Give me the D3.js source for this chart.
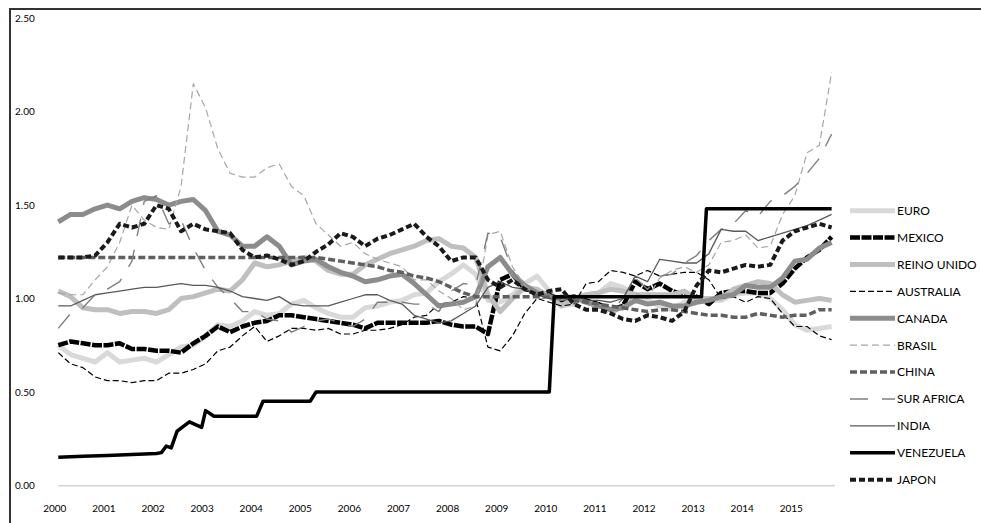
<!DOCTYPE html>
<html>
<head>
<meta charset="utf-8">
<script src="https://cdn.jsdelivr.net/npm/d3@7"></script>
<style>
  html, body { margin: 0; padding: 0; background: #fff; }
  svg { display: block; font-family: Lato, "Open Sans", sans-serif; }
</style>
</head>
<body>
<svg id="chart" width="981" height="523"></svg>
<script>
// ---------------- DATA ----------------
const years = [2000, 2001, 2002, 2003, 2004, 2005, 2006, 2007, 2008, 2009, 2010, 2011, 2012, 2013, 2014, 2015];
const yTicks = [0, 0.5, 1, 1.5, 2, 2.5];
// quarterly observation dates (Q1 2000 ... Q4 2015)
const quarters = d3.range(64).map(i => 2000 + i / 4);

const euro = [
  0.75, 0.70, 0.68, 0.66,  0.71, 0.66, 0.67, 0.68,  0.66, 0.70, 0.74, 0.75,  0.80, 0.86, 0.85, 0.88,
  0.93, 0.91, 0.92, 0.97,  0.99, 0.95, 0.92, 0.90,  0.90, 0.95, 0.96, 0.98,  0.99, 1.02, 1.03, 1.09,
  1.13, 1.18, 1.13, 0.99,  0.98, 1.02, 1.08, 1.12,  1.04, 0.96, 0.97, 1.02,  1.03, 1.08, 1.06, 1.02,
  0.99, 0.96, 0.94, 0.98,  0.99, 0.99, 0.99, 1.02,  1.03, 1.03, 1.00, 0.94,  0.86, 0.83, 0.84, 0.85];
const mexico = [
  0.75, 0.77, 0.76, 0.75,  0.75, 0.76, 0.73, 0.73,  0.72, 0.72, 0.71, 0.76,  0.80, 0.85, 0.82, 0.85,
  0.87, 0.88, 0.91, 0.91,  0.90, 0.89, 0.88, 0.87,  0.86, 0.84, 0.87, 0.87,  0.87, 0.87, 0.87, 0.88,
  0.86, 0.85, 0.85, 0.81,  1.10, 1.13, 1.05, 1.04,  1.02, 0.99, 1.01, 0.99,  0.97, 0.94, 0.96, 1.09,
  1.05, 1.08, 1.04, 1.02,  1.01, 0.97, 1.03, 1.04,  1.04, 1.03, 1.03, 1.08,  1.16, 1.22, 1.26, 1.33];
const reinoUnido = [
  1.04, 1.01, 0.95, 0.94,  0.94, 0.92, 0.93, 0.93,  0.92, 0.94, 1.00, 1.01,  1.03, 1.05, 1.04, 1.10,
  1.19, 1.17, 1.18, 1.20,  1.22, 1.20, 1.15, 1.13,  1.13, 1.18, 1.21, 1.24,  1.26, 1.28, 1.31, 1.32,
  1.28, 1.27, 1.22, 1.02,  0.93, 1.00, 1.06, 1.05,  1.01, 0.96, 1.00, 1.02,  1.03, 1.05, 1.04, 1.02,
  1.02, 1.02, 1.02, 1.04,  1.00, 1.00, 1.00, 1.05,  1.07, 1.09, 1.08, 1.02,  0.98, 0.99, 1.00, 0.99];
const australia = [
  0.71, 0.65, 0.63, 0.58,  0.56, 0.56, 0.55, 0.56,  0.56, 0.60, 0.60, 0.62,  0.65, 0.72, 0.74, 0.80,
  0.85, 0.77, 0.80, 0.84,  0.84, 0.83, 0.84, 0.81,  0.81, 0.83, 0.83, 0.84,  0.86, 0.90, 0.91, 0.97,
  0.98, 1.01, 1.00, 0.74,  0.72, 0.80, 0.92, 1.00,  0.98, 0.96, 0.97, 1.08,  1.09, 1.15, 1.14, 1.12,
  1.15, 1.12, 1.13, 1.14,  1.14, 1.10, 1.00, 1.01,  0.98, 1.01, 1.00, 0.92,  0.85, 0.85, 0.80, 0.78];
const canada = [
  1.41, 1.45, 1.45, 1.48,  1.50, 1.48, 1.52, 1.54,  1.53, 1.50, 1.52, 1.53,  1.47, 1.36, 1.34, 1.28,
  1.28, 1.33, 1.28, 1.18,  1.20, 1.21, 1.17, 1.14,  1.12, 1.09, 1.10, 1.12,  1.13, 1.08, 1.02, 0.96,
  0.97, 0.98, 1.01, 1.17,  1.22, 1.13, 1.07, 1.03,  1.01, 1.00, 1.01, 0.98,  0.96, 0.94, 0.95, 0.99,
  0.97, 0.98, 0.96, 0.96,  0.98, 0.99, 1.01, 1.02,  1.07, 1.06, 1.06, 1.11,  1.20, 1.21, 1.27, 1.30];
const brasil = [
  1.03, 1.02, 1.02, 1.10,  1.17, 1.30, 1.50, 1.42,  1.38, 1.37, 1.60, 2.15,  2.02, 1.80, 1.67, 1.65,
  1.65, 1.70, 1.72, 1.60,  1.55, 1.40, 1.34, 1.28,  1.30, 1.24, 1.21, 1.19,  1.17, 1.10, 1.10, 1.04,
  1.00, 0.94, 0.96, 1.34,  1.36, 1.17, 1.07, 1.00,  1.00, 1.02, 0.99, 0.97,  0.95, 0.92, 0.94, 1.03,
  1.00, 1.11, 1.15, 1.17,  1.14, 1.18, 1.30, 1.31,  1.34, 1.27, 1.28, 1.45,  1.55, 1.78, 1.82, 2.21];
const china = [
  1.22, 1.22, 1.22, 1.22,  1.22, 1.22, 1.22, 1.22,  1.22, 1.22, 1.22, 1.22,  1.22, 1.22, 1.22, 1.22,
  1.22, 1.22, 1.22, 1.22,  1.22, 1.22, 1.21, 1.20,  1.19, 1.18, 1.17, 1.15,  1.14, 1.12, 1.11, 1.09,
  1.06, 1.03, 1.01, 1.01,  1.01, 1.01, 1.01, 1.01,  1.01, 1.01, 0.99, 0.98,  0.97, 0.96, 0.95, 0.94,
  0.93, 0.94, 0.94, 0.93,  0.92, 0.91, 0.91, 0.90,  0.90, 0.92, 0.91, 0.90,  0.91, 0.91, 0.94, 0.94];
const surAfrica = [
  0.84, 0.92, 0.95, 1.02,  1.05, 1.09, 1.20, 1.52,  1.55, 1.40, 1.42, 1.27,  1.15, 1.06, 1.00, 0.93,
  0.93, 0.89, 0.88, 0.82,  0.85, 0.88, 0.89, 0.87,  0.85, 0.89, 0.98, 0.98,  0.98, 0.97, 0.97, 0.93,
  1.04, 1.08, 1.07, 1.35,  1.33, 1.15, 1.05, 1.02,  1.02, 1.02, 0.98, 0.94,  0.96, 0.93, 1.00, 1.11,
  1.05, 1.12, 1.13, 1.19,  1.23, 1.31, 1.37, 1.40,  1.47, 1.44, 1.52, 1.55,  1.60, 1.67, 1.75, 1.88];
const india = [
  0.96, 0.96, 0.99, 1.02,  1.03, 1.04, 1.05, 1.06,  1.06, 1.07, 1.08, 1.07,  1.07, 1.06, 1.04, 1.01,
  1.00, 0.99, 1.01, 0.97,  0.96, 0.96, 0.96, 0.98,  1.00, 1.02, 1.02, 0.99,  0.97, 0.91, 0.89, 0.87,
  0.88, 0.92, 0.96, 1.06,  1.09, 1.06, 1.05, 1.02,  1.00, 1.00, 1.02, 0.99,  0.99, 0.98, 1.00, 1.12,
  1.09, 1.21, 1.20, 1.19,  1.19, 1.24, 1.37, 1.36,  1.36, 1.31, 1.33, 1.35,  1.37, 1.39, 1.42, 1.45];
const japon = [
  1.22, 1.22, 1.22, 1.23,  1.30, 1.40, 1.38, 1.40,  1.50, 1.48, 1.36, 1.40,  1.37, 1.36, 1.35, 1.26,
  1.22, 1.23, 1.21, 1.18,  1.20, 1.25, 1.29, 1.35,  1.33, 1.28, 1.32, 1.34,  1.37, 1.40, 1.33, 1.28,
  1.20, 1.22, 1.22, 1.10,  1.06, 1.10, 1.05, 1.02,  1.04, 1.05, 0.97, 0.94,  0.94, 0.92, 0.89, 0.88,
  0.91, 0.90, 0.88, 0.93,  1.07, 1.15, 1.14, 1.16,  1.18, 1.17, 1.18, 1.31,  1.36, 1.38, 1.40, 1.38];
// Venezuela: official rate changes (dates as fractional years)
const venezuelaDates = [2000.0, 2000.5, 2001.0, 2001.5, 2002.0, 2002.1, 2002.2, 2002.3, 2002.42, 2002.67, 2002.92,
  2003.0, 2003.17, 2004.04, 2004.17, 2005.13, 2005.25, 2010.0, 2010.1, 2013.1, 2013.2, 2015.75];
const venezuelaValues = [0.15, 0.155, 0.16, 0.165, 0.17, 0.175, 0.21, 0.20, 0.29, 0.34, 0.31,
  0.40, 0.37, 0.37, 0.45, 0.45, 0.50, 0.50, 1.01, 1.01, 1.48, 1.48];

const seriesNames = ["EURO", "MEXICO", "REINO UNIDO", "AUSTRALIA", "CANADA", "BRASIL", "CHINA", "SUR AFRICA", "INDIA", "VENEZUELA", "JAPON"];

// ---------------- STYLES ----------------
const styles = {
  "EURO":        {color: "#d9d9d9", width: 5,   dash: null},
  "MEXICO":      {color: "#000000", width: 4.5, dash: "10,1.5"},
  "REINO UNIDO": {color: "#bfbfbf", width: 5,   dash: null},
  "AUSTRALIA":   {color: "#000000", width: 1.2, dash: "6,3"},
  "CANADA":      {color: "#8c8c8c", width: 5,   dash: null},
  "BRASIL":      {color: "#a6a6a6", width: 1.2, dash: "7,4"},
  "CHINA":       {color: "#5f5f5f", width: 3.5, dash: "7,3"},
  "SUR AFRICA":  {color: "#7f7f7f", width: 1.4, dash: "18,14"},
  "INDIA":       {color: "#595959", width: 1.3, dash: null},
  "VENEZUELA":   {color: "#000000", width: 3.5, dash: null},
  "JAPON":       {color: "#1a1a1a", width: 4,   dash: "6,3"}
};

const series = [
  {name: "EURO", xs: quarters, ys: euro},
  {name: "MEXICO", xs: quarters, ys: mexico},
  {name: "REINO UNIDO", xs: quarters, ys: reinoUnido},
  {name: "AUSTRALIA", xs: quarters, ys: australia},
  {name: "CANADA", xs: quarters, ys: canada},
  {name: "BRASIL", xs: quarters, ys: brasil},
  {name: "CHINA", xs: quarters, ys: china},
  {name: "SUR AFRICA", xs: quarters, ys: surAfrica},
  {name: "INDIA", xs: quarters, ys: india},
  {name: "VENEZUELA", xs: venezuelaDates, ys: venezuelaValues},
  {name: "JAPON", xs: quarters, ys: japon}
];

// ---------------- CHART ----------------
const svg = d3.select("#chart");
svg.append("rect").attr("width", 981).attr("height", 523).attr("fill", "#fff");

// frame (top and left border) drawn as filled bars
svg.append("rect").attr("x", 9).attr("y", 8).attr("width", 972).attr("height", 2).attr("fill", "#333333");
svg.append("rect").attr("x", 9).attr("y", 8).attr("width", 2).attr("height", 515).attr("fill", "#333333");

const x = d3.scaleLinear().domain([2000, 2016]).range([58.3, 843.9]);
const y = d3.scaleLinear().domain([0, 2.5]).range([485.3, 18.3]);

// y axis labels
const yAxis = svg.append("g").attr("transform", "translate(15,0)")
  .call(d3.axisLeft(y).tickValues(yTicks).tickFormat(d3.format(".2f")).tickSize(0).tickPadding(0));
yAxis.select(".domain").remove();
yAxis.selectAll("text").attr("text-anchor", "start").attr("x", 0)
  .attr("font-size", 10).attr("fill", "#000").attr("font-family", "Lato, sans-serif");

// x axis labels
const xAxis = svg.append("g").attr("transform", "translate(-4,505)")
  .call(d3.axisBottom(x).tickValues(years).tickFormat(d => String(d)).tickSize(0).tickPadding(0));
xAxis.select(".domain").remove();
xAxis.selectAll("text").attr("font-size", 10).attr("fill", "#000").attr("font-family", "Lato, sans-serif");

// baseline
svg.append("line").attr("x1", x(2000)).attr("x2", 835).attr("y1", y(0) + 0.5).attr("y2", y(0) + 0.5)
  .attr("stroke", "#bfbfbf").attr("stroke-width", 1);

// lines
const line = d3.line().x(d => x(d[0])).y(d => y(d[1]));
const gLines = svg.append("g");
series.forEach(s => {
  const st = styles[s.name];
  const pts = s.xs.map((t, i) => [t, s.ys[i]]);
  gLines.append("path")
    .attr("d", line(pts))
    .attr("fill", "none")
    .attr("stroke", st.color)
    .attr("stroke-width", st.width)
    .attr("stroke-linejoin", "round")
    .attr("stroke-dasharray", st.dash);
});

// legend
const legend = svg.append("g");
seriesNames.forEach((name, i) => {
  const st = styles[name];
  const ly = 210.7 + i * 26.9;
  legend.append("line").attr("x1", 850).attr("x2", 895).attr("y1", ly).attr("y2", ly)
    .attr("stroke", st.color).attr("stroke-width", st.width).attr("stroke-dasharray", st.dash);
  legend.append("text").attr("x", 897).attr("y", ly).attr("dy", "0.36em")
    .attr("font-size", 12).attr("fill", "#000").text(name);
});
</script>
</body>
</html>
